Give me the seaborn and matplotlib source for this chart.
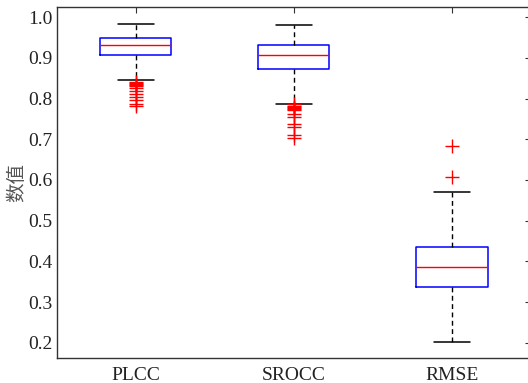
import matplotlib
matplotlib.use("Agg")
import matplotlib.pyplot as plt
import seaborn as sns
import pandas as pd

# Evaluation metrics on the x axis
metrics = ["PLCC", "SROCC", "RMSE"]

# Five-number summaries: lower whisker, Q1, median, Q3, upper whisker
plcc_summary = [0.845, 0.9075, 0.932, 0.949, 0.983]
srocc_summary = [0.788, 0.873, 0.9075, 0.931, 0.980]
rmse_summary = [0.2015, 0.338, 0.386, 0.4355, 0.571]

# Points beyond the whiskers
plcc_outliers = [0.842, 0.839, 0.836, 0.833, 0.830, 0.827, 0.819, 0.812,
                 0.804, 0.796, 0.788, 0.781]
srocc_outliers = [0.786, 0.783, 0.780, 0.777, 0.774, 0.771, 0.762, 0.754,
                  0.737, 0.731, 0.710, 0.704]
rmse_outliers = [0.683, 0.608]

yticks = [0.2, 0.3, 0.4, 0.5, 0.6, 0.7, 0.8, 0.9, 1.0]

summaries = dict(zip(metrics, [plcc_summary, srocc_summary, rmse_summary]))
outliers = dict(zip(metrics, [plcc_outliers, srocc_outliers, rmse_outliers]))

box_df = pd.DataFrame(
    [(m, v) for m in metrics for v in summaries[m]], columns=["指标", "数值"]
)
out_df = pd.DataFrame(
    [(m, v) for m in metrics for v in outliers[m]], columns=["指标", "数值"]
)

sns.set_style("white")
plt.rcParams["font.family"] = ["Liberation Serif", "Noto Sans CJK SC", "DejaVu Sans"]

fig = plt.figure(figsize=(5.28, 3.83), dpi=100)
ax = fig.add_axes([0.1074, 0.0645, 0.8985, 0.9165])

sns.boxplot(
    data=box_df, x="指标", y="数值", order=metrics, ax=ax,
    whis=(0, 100), width=0.45, fill=False, showfliers=False,
    boxprops=dict(color="blue", linewidth=1.1),
    medianprops=dict(color="red", linewidth=1.0),
    whiskerprops=dict(color="black", linewidth=1.0, linestyle=(0, (3.5, 2.5))),
    capprops=dict(color="black", linewidth=1.1),
)

sns.stripplot(
    data=out_df, x="指标", y="数值", order=metrics, ax=ax,
    jitter=False, marker="+", color="red", size=10.5, linewidth=1.0,
)

ax.set_xlim(-0.5, 2.5)
ax.set_ylim(0.1616, 1.0246)
ax.set_yticks(yticks)
ax.set_yticklabels([f"{t:.1f}" for t in yticks])
ax.set_xlabel("")
ax.set_ylabel("数值", family=["Noto Sans CJK SC"], fontsize=14, color="#555555",
              labelpad=1)

ax.tick_params(axis="both", direction="in", length=4, width=0.8,
               top=True, right=True, colors="#333333", labelcolor="#222222",
               labelsize=14)
ax.tick_params(axis="y", pad=3)
ax.tick_params(axis="x", pad=6)

for s in ax.spines.values():
    s.set_visible(True)
    s.set_color("#333333")
    s.set_linewidth(1.0)

fig.savefig("out.png", dpi=100)
